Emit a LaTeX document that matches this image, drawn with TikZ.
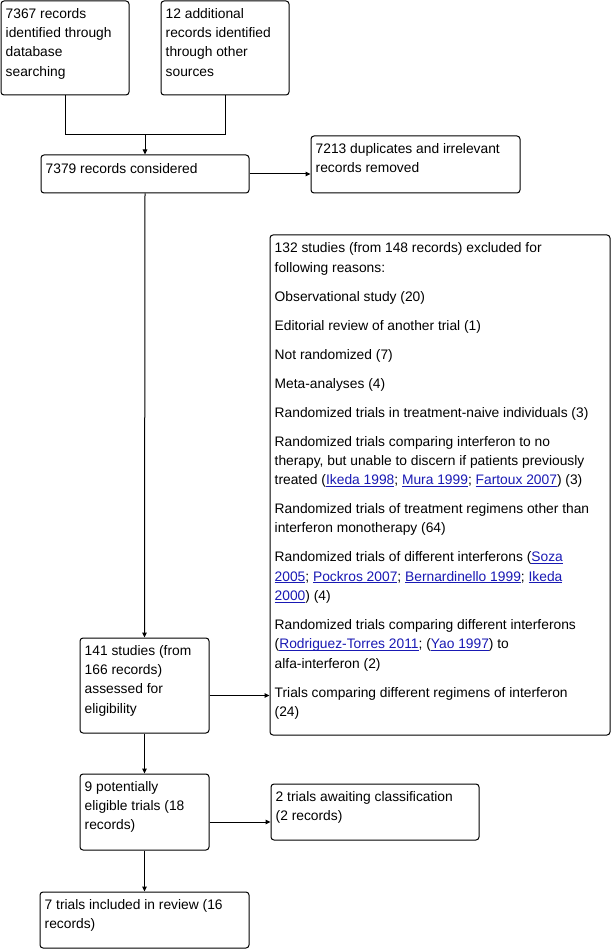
\documentclass[tikz,border=0pt]{standalone}
\usepackage{fontspec}
\setmainfont{Liberation Sans}
\usetikzlibrary{arrows.meta}
\definecolor{linkblue}{RGB}{25,25,180}
\newcommand{\lnk}[1]{\textcolor{linkblue}{\underline{\smash{#1}}}}
\begin{document}
\begin{tikzpicture}[x=1pt,y=-1pt,
  box/.style={draw, rounded corners=3pt, inner sep=0pt, line width=1pt},
  txt/.style={anchor=north west, align=left, inner sep=0pt, font=\fontsize{13.8}{19.3}\selectfont, execute at begin node={\rule{0pt}{10.5pt}}},
  arr/.style={-{Triangle[length=5pt,width=4.5pt]}, line width=1pt}]
\useasboundingbox (0,0) rectangle (613,949);
\fill[white] (0,0) rectangle (613,949);

\node[box, minimum width=128, minimum height=94] (A) at (65,48) {};
\node[box, minimum width=128, minimum height=94] (B) at (225,48) {};
\node[box, minimum width=208, minimum height=38] (C) at (145,174) {};
\node[box, minimum width=209, minimum height=57] (D) at (415.5,164.5) {};
\node[box, minimum width=340, minimum height=500] (E) at (440,485) {};
\node[box, minimum width=129, minimum height=95] (F) at (144.5,685.5) {};
\node[box, minimum width=129, minimum height=76] (G) at (144.5,812) {};
\node[box, minimum width=208, minimum height=56] (H) at (375,812) {};
\node[box, minimum width=209, minimum height=56] (I) at (144.5,920) {};

\node[txt] (At) at ([xshift=5pt,yshift=-7.5pt]A.north west) {7367 records\\identified through\\database\\searching};
\node[txt] (Bt) at ([xshift=5pt,yshift=-7.5pt]B.north west) {12 additional\\records identified\\through other\\sources};
\node[txt] (Ct) at ([xshift=5pt,yshift=-8.5pt]C.north west) {7379 records considered};
\node[txt] (Dt) at ([xshift=5pt,yshift=-7.5pt]D.north west) {7213 duplicates and irrelevant\\records removed};
\node[txt] (Et) at ([xshift=5pt,yshift=-8pt]E.north west) {132 studies (from 148 records) excluded for\\following reasons:\\[9.7pt]
Observational study (20)\\[9.7pt]
Editorial review of another trial (1)\\[9.7pt]
Not randomized (7)\\[9.7pt]
Meta-analyses (4)\\[9.7pt]
Randomized trials in treatment-naive individuals (3)\\[9.7pt]
Randomized trials comparing interferon to no\\therapy, but unable to discern if patients previously\\treated (\lnk{Ikeda 1998}; \lnk{Mura 1999}; \lnk{Fartoux 2007}) (3)\\[9.7pt]
Randomized trials of treatment regimens other than\\interferon monotherapy (64)\\[9.7pt]
Randomized trials of different interferons (\lnk{Soza}\\\lnk{2005}; \lnk{Pockros 2007}; \lnk{Bernardinello 1999}; \lnk{Ikeda}\\\lnk{2000}) (4)\\[9.7pt]
Randomized trials comparing different interferons\\(\lnk{Rodriguez-Torres 2011}; (\lnk{Yao 1997}) to\\alfa-interferon (2)\\[9.7pt]
Trials comparing different regimens of interferon\\(24)};
\node[txt] (Ft) at ([xshift=5pt,yshift=-7.5pt]F.north west) {141 studies (from\\166 records)\\assessed for\\eligibility};
\node[txt] (Gt) at ([xshift=5pt,yshift=-7.5pt]G.north west) {9 potentially\\eligible trials (18\\records)};
\node[txt] (Ht) at ([xshift=5pt,yshift=-7.5pt]H.north west) {2 trials awaiting classification\\(2 records)};
\node[txt] (It) at ([xshift=5pt,yshift=-7.5pt]I.north west) {7 trials included in review (16\\records)};

\coordinate (j) at (145,135);
\draw[line width=1pt] (A.south) -- (A.south |- j) -- (B.south |- j) -- (B.south);
\draw[arr] (j) -- (C.north);
\draw[arr] (C.east) -- (C.east -| D.west);
\draw[arr] (C.south) -- (F.north);
\draw[arr] ([yshift=-10pt]F.east) -- ([yshift=-10pt]F.east -| E.west);
\draw[arr] (F.south) -- (G.north);
\draw[arr] ([yshift=-10pt]G.east) -- ([yshift=-10pt]G.east -| H.west);
\draw[arr] (G.south) -- (I.north);
\end{tikzpicture}
\end{document}
